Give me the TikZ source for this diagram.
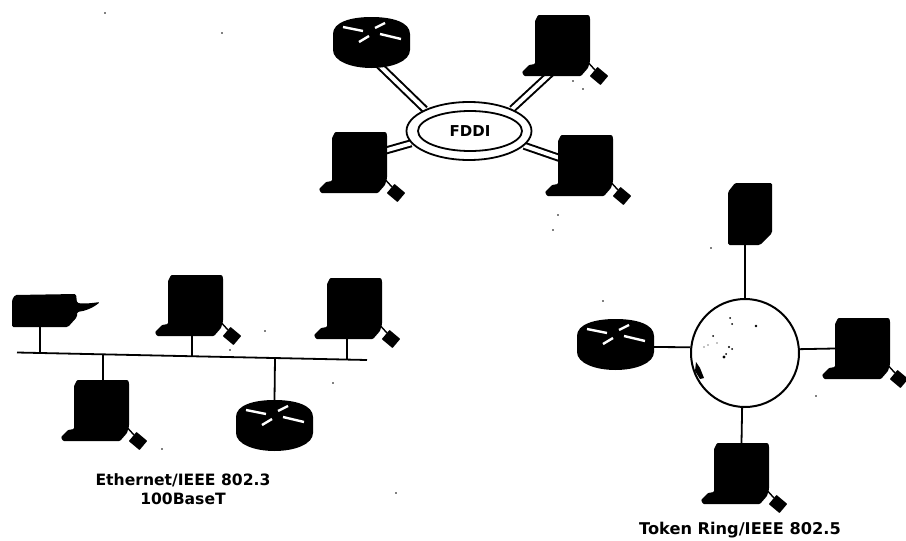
\documentclass[tikz,border=0pt]{standalone}
\usepackage{fontspec}
\setmainfont{DejaVu Sans}
\usetikzlibrary{shapes.geometric}
\pgfdeclarelayer{bg}
\pgfsetlayers{bg,main}
\tikzset{
  x=1pt,y=-1pt,
  wire/.style={draw=black,line width=1.8pt},
  dwire/.style={draw=black,line width=2pt,double=white,double distance=4pt},
  lbl/.style={font=\bfseries\fontsize{15.6}{17}\selectfont,inner sep=0pt,text=black,align=center},
  anchorbox/.style={draw=none,fill=none,inner sep=0pt,outer sep=0pt,rectangle},
  speck/.style={fill=black,draw=none},
  pc/.pic={
    \fill[black,rounded corners=1pt] (3,0) -- (54,0) -- (55,3) -- (55,46) -- (53,53) -- (46,61)
      -- (-11,61) -- (-13,57) -- (-6,50) -- (0,49) -- (0,6) -- cycle;
    \draw[black,line width=1.4pt] (50,44) -- (60,55);
    \fill[black,rotate around={-40:(64,61)},rounded corners=.5pt] (57,55) rectangle (71,67);
    \node[anchorbox,minimum width=55pt,minimum height=61pt,anchor=north west] (-body) at (0,0) {};
  },
  router/.pic={
    \fill[black] (0,17) .. controls (0,5) and (18,0) .. (38.5,0)
      .. controls (59,0) and (77,5) .. (77,17) -- (77,33)
      .. controls (77,44) and (59,51) .. (38.5,51)
      .. controls (18,51) and (0,44) .. (0,33) -- cycle;
    \draw[white,line width=2.4pt] (10,10) -- (30,14) (42,11) -- (52,6) (47,17) -- (68,22) (26,25) -- (36,19);
    \node[anchorbox,minimum width=77pt,minimum height=51pt,anchor=north west] (-body) at (0,0) {};
  }
}
\begin{document}
\begin{tikzpicture}
\useasboundingbox (0,0) rectangle (906,541);
% FDDI
\pic (r1) at (333,17) {router};
\pic (p1) at (535,15) {pc};
\pic (p2) at (332,132) {pc};
\pic (p3) at (558,135) {pc};
\node[ellipse,draw=black,line width=1.8pt,fill=white,minimum width=125pt,minimum height=58pt,inner sep=0pt] (fddi) at (469,131) {};
\node[ellipse,draw=black,line width=1.8pt,fill=white,minimum width=104pt,minimum height=40pt,inner sep=0pt,lbl,font=\bfseries\fontsize{15}{17}\selectfont] (fddiin) at (470,131) {FDDI};
\begin{pgfonlayer}{bg}
\draw[dwire] ([xshift=45pt,yshift=4pt]r1-body.south west) -- (fddi.154);
\draw[dwire] ([xshift=16pt,yshift=3pt]p1-body.south west) -- (fddi.27);
\draw[dwire] ([xshift=-3pt,yshift=11.5pt]p2-body.east) -- (fddi.192);
\draw[dwire] (fddi.-15) -- ([xshift=3pt,yshift=7pt]p3-body.west);
\end{pgfonlayer}
% Ethernet
\fill[black,rounded corners=1.5pt] (15,295) -- (76,294) -- (77,303) .. controls (85,304) and (93,303) .. (100,302)
  .. controls (93,308) and (85,311) .. (77,312) -- (77,317) -- (68,327) -- (12,327) -- (12,300) -- cycle;
\node[anchorbox,minimum width=65pt,minimum height=34pt,anchor=north west] (prn) at (12,293) {};
\pic (e1) at (168,275) {pc};
\pic (e2) at (327,278) {pc};
\pic (e3) at (74,380) {pc};
\pic (r2) at (236,400) {router};
\coordinate (busL) at (17,352.5);
\coordinate (busR) at (367,360);
\coordinate (t1) at (40,353);
\coordinate (t2) at (103,354.3);
\coordinate (t3) at (192,356.2);
\coordinate (t4) at (275,358);
\coordinate (t5) at (347,359.6);
\begin{pgfonlayer}{bg}
\draw[wire] (busL) -- (busR);
\draw[wire] ([xshift=-4.5pt,yshift=1pt]prn.south) -- (t1);
\draw[wire] ([xshift=1.5pt]e3-body.north) -- (t2);
\draw[wire] ([xshift=-3.5pt,yshift=2pt]e1-body.south) -- (t3);
\draw[wire] (r2-body.north) -- (t4);
\draw[wire] ([xshift=-7.5pt,yshift=2pt]e2-body.south) -- (t5);
\end{pgfonlayer}
\node[lbl] (ethlbl) at (183,480) {Ethernet/IEEE 802.3};
\node[lbl] (ethlbl2) at (183,499) {100BaseT};
% Token ring
\fill[black,rounded corners=1.5pt] (735,183) -- (772,183) -- (772,233) -- (760,245) -- (728,245) -- (728,192) -- cycle;
\node[anchorbox,minimum width=44pt,minimum height=62pt,anchor=north west] (srv) at (728,183) {};
\pic (r3) at (577,319) {router};
\pic (t1pc) at (835,318) {pc};
\pic (t2pc) at (714,443) {pc};
\node[circle,draw=black,line width=2pt,fill=white,minimum size=108pt,inner sep=0pt] (ring) at (745,353) {};
\begin{pgfonlayer}{bg}
\draw[wire] ([xshift=-5pt]srv.south) -- (ring.north);
\draw[wire] ([yshift=-2.5pt]r3-body.east) -- (ring.174);
\draw[wire] (ring.4) -- (t1pc-body.west);
\draw[wire] (ring.-93) -- (t2pc-body.north);
\end{pgfonlayer}
\node[lbl,font=\bfseries\fontsize{16.2}{18}\selectfont] (trlbl) at (740,530) {Token Ring/IEEE 802.5};
% ring specks
\foreach \a/\b/\r in {730/318/1,732/324/1,756/326/1.4,713/336/1,717/343/.7,729/347/1.2,732/349/1,724/357/1.6,726/354/1,704/347/.6,708/345/.6}
  \fill[speck] (\a,\b) circle (\r pt);
\fill[speck] (696,362) -- (700,368) -- (704,378) -- (700,379) -- (695,371) -- cycle;
% scan specks
\foreach \a/\b in {265/331,230/350,333/383,162/449,396/493,711/248,603/301,816/396,573/81,583/89,105/13,222/33,553/230,558/215}
  \fill[speck] (\a,\b) circle (.8pt);
\end{tikzpicture}
\end{document}
